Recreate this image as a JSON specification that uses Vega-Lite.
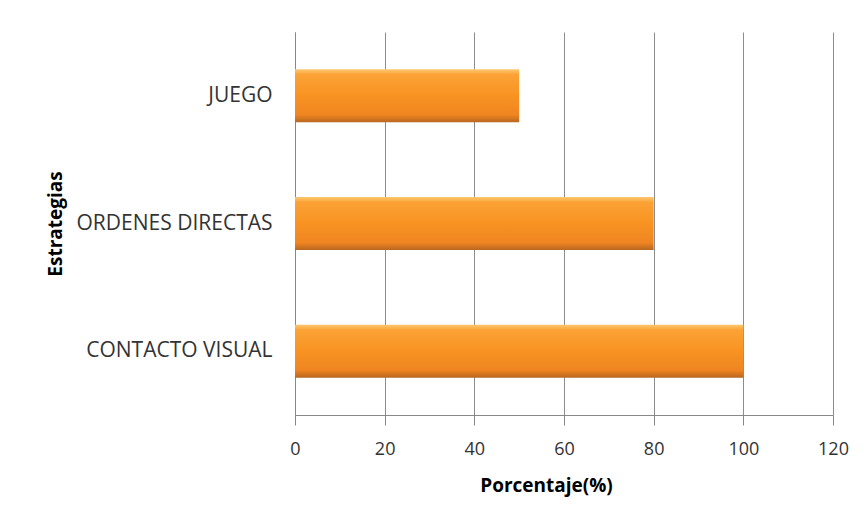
{
  "$schema": "https://vega.github.io/schema/vega-lite/v6.json",
  "autosize": "none",
  "width": 538,
  "height": 383,
  "padding": {"left": 295, "top": 32, "right": 34, "bottom": 110},
  "background": "white",
  "data": {
    "values": [
      {"estrategia": "JUEGO", "porcentaje": 50},
      {"estrategia": "ORDENES DIRECTAS", "porcentaje": 80},
      {"estrategia": "CONTACTO VISUAL", "porcentaje": 100}
    ]
  },
  "mark": {
    "type": "bar",
    "size": 53,
    "color": {
      "gradient": "linear",
      "x1": 0, "y1": 0, "x2": 0, "y2": 1,
      "stops": [
        {"offset": 0, "color": "#FDC870"},
        {"offset": 0.1, "color": "#FBA236"},
        {"offset": 0.5, "color": "#F89322"},
        {"offset": 0.86, "color": "#EF8521"},
        {"offset": 1, "color": "#B9671F"}
      ]
    }
  },
  "encoding": {
    "y": {
      "field": "estrategia",
      "type": "nominal",
      "sort": ["JUEGO", "ORDENES DIRECTAS", "CONTACTO VISUAL"],
      "title": "Estrategias",
      "axis": {
        "ticks": false,
        "domain": true,
        "domainColor": "#888888",
        "labelPadding": 23,
        "labelFont": "Open Sans",
        "labelFontSize": 21,
        "labelColor": "#333333",
        "labelLimit": 400,
        "titleFont": "Open Sans",
        "titleFontSize": 19,
        "titleFontWeight": "bold",
        "titleColor": "#000000",
        "titleX": -230
      }
    },
    "x": {
      "field": "porcentaje",
      "type": "quantitative",
      "title": "Porcentaje(%)",
      "scale": {"domain": [0, 120], "nice": false},
      "axis": {
        "values": [0, 20, 40, 60, 80, 100, 120],
        "grid": true,
        "gridColor": "#8C8C8C",
        "gridWidth": 1,
        "domainColor": "#888888",
        "tickColor": "#888888",
        "tickSize": 10,
        "labelPadding": 15,
        "labelFont": "Open Sans",
        "labelFontSize": 18,
        "labelColor": "#333333",
        "labelFlush": false,
        "titleFont": "Open Sans",
        "titleFontSize": 19,
        "titleFontWeight": "bold",
        "titleColor": "#000000",
        "titlePadding": 18,
        "titleX": 251
      }
    }
  },
  "config": {
    "view": {"stroke": null}
  }
}
